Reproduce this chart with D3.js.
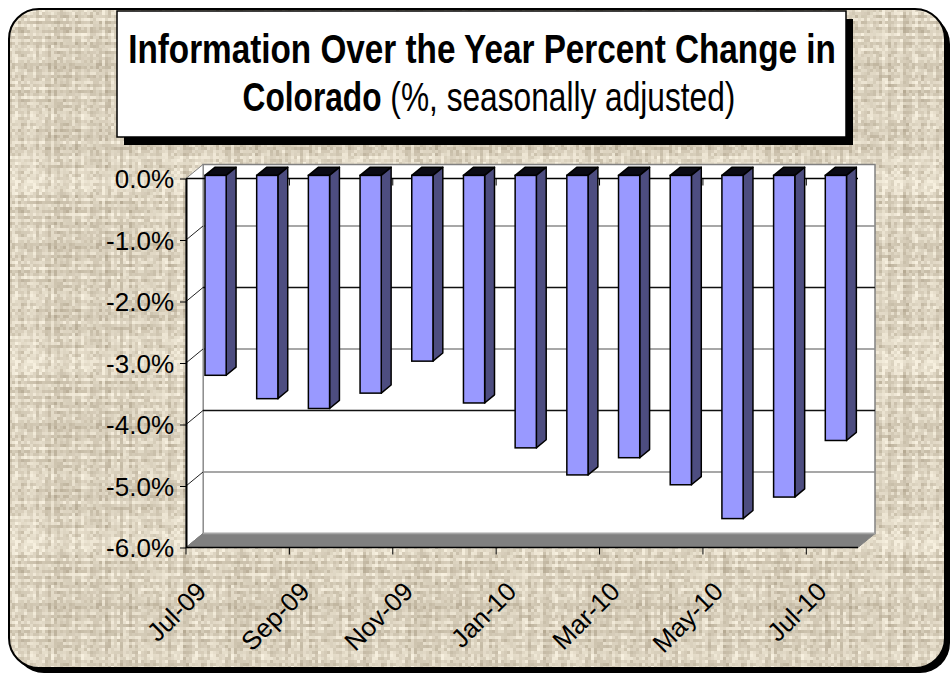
<!DOCTYPE html>
<html>
<head>
<meta charset="utf-8">
<script src="https://cdn.jsdelivr.net/npm/d3@7"></script>
<style>
  body { margin: 0; background: #fff; }
  text { font-family: 'Liberation Sans', Arial, sans-serif; }
</style>
</head>
<body>
<svg id="chart" width="952" height="675"></svg>
<script>
// data
const months = ['Jul-09','Aug-09','Sep-09','Oct-09','Nov-09','Dec-09','Jan-10','Feb-10','Mar-10','Apr-10','May-10','Jun-10','Jul-10'];
const values = [-3.25, -3.63, -3.79, -3.54, -3.02, -3.70, -4.43, -4.87, -4.59, -5.03, -5.58, -5.23, -4.31];
const yTicks = [0, -1, -2, -3, -4, -5, -6];
const titleLine1 = 'Information Over the Year Percent Change in';
const titleBold2 = 'Colorado';
const titleRest2 = ' (%, seasonally adjusted)';

// plot front plane + 3d depth offset
const pLeft = 186, pRight = 858, pTop = 178.5, pBottom = 547.5;
const DX = 17, DY = -14;

const svg = d3.select('#chart');

// hash for the linen texture (decoration only)
function hash(n) {
  const s = Math.sin(n * 127.1 + 311.7) * 43758.5453;
  return s - Math.floor(s);
}

// background linen pattern
const defs = svg.append('defs');
const tile = 3, nCells = 60;
const pat = defs.append('pattern')
  .attr('id', 'linen')
  .attr('patternUnits', 'userSpaceOnUse')
  .attr('width', tile * nCells).attr('height', tile * nCells);
const shade = d3.interpolateRgb('#a4977f', '#f7f0df');
const cells = [];
for (let r = 0; r < nCells; r++) {
  for (let c = 0; c < nCells; c++) {
    const rv = hash(r + 7) - 0.5, cv = hash(c + 1003) - 0.5, nv = hash(r * 61 + c * 13 + 5) - 0.5;
    let t = 0.66 + 0.32 * (rv + cv) + 0.4 * nv;
    t = Math.max(0, Math.min(1, t));
    cells.push({ r, c, t });
  }
}
pat.selectAll('rect').data(cells).enter().append('rect')
  .attr('x', d => d.c * tile).attr('y', d => d.r * tile)
  .attr('width', tile).attr('height', tile)
  .attr('fill', d => shade(d.t));

// outer frame with shadow
svg.append('rect')
  .attr('x', 14).attr('y', 14).attr('width', 936).attr('height', 659)
  .attr('rx', 30).attr('fill', '#000');
svg.append('rect')
  .attr('x', 9).attr('y', 9).attr('width', 936).attr('height', 659)
  .attr('rx', 30).attr('fill', 'url(#linen)')
  .attr('stroke', '#000').attr('stroke-width', 2);

// title box
svg.append('rect')
  .attr('x', 124).attr('y', 19).attr('width', 729).attr('height', 126)
  .attr('fill', '#000');
svg.append('rect')
  .attr('x', 117).attr('y', 11).attr('width', 729).attr('height', 126)
  .attr('fill', '#fff').attr('stroke', '#000').attr('stroke-width', 1.5);

const titleFont = "'Liberation Sans Narrow', 'Arial Narrow', 'Liberation Sans', sans-serif";
const t1 = svg.append('text')
  .attr('x', 482).attr('y', 63)
  .attr('text-anchor', 'middle')
  .style('font-family', titleFont)
  .style('font-size', '41px').style('font-weight', 'bold')
  .text(titleLine1);
const t2 = svg.append('text')
  .attr('x', 489).attr('y', 111)
  .attr('text-anchor', 'middle')
  .style('font-family', titleFont)
  .style('font-size', '41px');
t2.append('tspan').style('font-weight', 'bold').text(titleBold2);
t2.append('tspan').text(titleRest2);

// squeeze if narrow face is missing
[[t1, 708, 482], [t2, 493, 489]].forEach(([t, target, cx]) => {
  const w = t.node().getComputedTextLength();
  if (w > target * 1.03) {
    const k = target / w;
    t.attr('transform', `translate(${cx},0) scale(${k},1) translate(${-cx},0)`);
  }
});

// scales
const x = d3.scaleBand().domain(months).range([pLeft, pRight]).padding(0);
const y = d3.scaleLinear().domain([-6, 0]).range([pBottom, pTop]);

const g = svg.append('g');

// back wall
g.append('rect')
  .attr('x', pLeft + DX).attr('y', pTop + DY)
  .attr('width', pRight - pLeft).attr('height', pBottom - pTop)
  .attr('fill', '#fff').attr('stroke', '#808080').attr('stroke-width', 1.5);

// side wall
g.append('path')
  .attr('d', `M${pLeft},${pTop}L${pLeft + DX},${pTop + DY}L${pLeft + DX},${pBottom + DY}L${pLeft},${pBottom}Z`)
  .attr('fill', '#fff').attr('stroke', '#808080').attr('stroke-width', 1);

// gridlines on back wall + side wall
const innerTicks = yTicks.filter(v => v > -6 && v < 0);
g.selectAll('.grid').data(innerTicks).enter().append('line')
  .attr('x1', pLeft + DX).attr('x2', pRight + DX)
  .attr('y1', d => y(d) + DY).attr('y2', d => y(d) + DY)
  .attr('stroke', d => (d % 2 === 0 ? '#111' : '#8a8a8a')).attr('stroke-width', 1.3);
g.selectAll('.sgrid').data(innerTicks).enter().append('line')
  .attr('x1', pLeft).attr('x2', pLeft + DX)
  .attr('y1', d => y(d)).attr('y2', d => y(d) + DY)
  .attr('stroke', '#222').attr('stroke-width', 1);

// floor
g.append('path')
  .attr('d', `M${pLeft},${pBottom}L${pRight},${pBottom}L${pRight + DX},${pBottom + DY}L${pLeft + DX},${pBottom + DY}Z`)
  .attr('fill', '#808080').attr('stroke', '#808080');
g.append('line')
  .attr('x1', pLeft + DX).attr('x2', pRight + DX)
  .attr('y1', pBottom + DY).attr('y2', pBottom + DY)
  .attr('stroke', '#a6a6a6').attr('stroke-width', 1.5);

// zero axis line + its ticks
g.append('line')
  .attr('x1', pLeft).attr('x2', pRight)
  .attr('y1', y(0)).attr('y2', y(0))
  .attr('stroke', '#000').attr('stroke-width', 1.5);

const tickIdx = months.map((m, i) => i).filter(i => i % 2 === 0);
g.selectAll('.ztick').data(tickIdx.filter(i => i > 0)).enter().append('line')
  .attr('x1', i => x(months[i])).attr('x2', i => x(months[i]))
  .attr('y1', y(0)).attr('y2', y(0) + 7)
  .attr('stroke', '#000');

// bars
const bw = x.bandwidth() * 0.41;
const f0 = 0.22, f1 = 0.8;
const bars = g.selectAll('.bar').data(months.map((m, i) => ({ m, v: values[i] }))).enter()
  .append('g').attr('class', 'bar');

function barGeom(d) {
  const cx = x(d.m) + x.bandwidth() / 2;
  const xl = cx - bw / 2 + f0 * DX, xr = xl + bw;
  const yt = y(0) + f0 * DY, yb = y(d.v) + f0 * DY;
  const ddx = (f1 - f0) * DX, ddy = (f1 - f0) * DY;
  return { xl, xr, yt, yb, ddx, ddy };
}

bars.append('path') // top
  .attr('d', d => {
    const b = barGeom(d);
    return `M${b.xl},${b.yt}L${b.xr},${b.yt}L${b.xr + b.ddx},${b.yt + b.ddy}L${b.xl + b.ddx},${b.yt + b.ddy}Z`;
  })
  .attr('fill', '#0a0a14').attr('stroke', '#000').attr('stroke-width', 1.5).attr('stroke-linejoin', 'round');
bars.append('path') // side
  .attr('d', d => {
    const b = barGeom(d);
    return `M${b.xr},${b.yt}L${b.xr + b.ddx},${b.yt + b.ddy}L${b.xr + b.ddx},${b.yb + b.ddy}L${b.xr},${b.yb}Z`;
  })
  .attr('fill', '#4d4d80').attr('stroke', '#000').attr('stroke-width', 1.5).attr('stroke-linejoin', 'round');
bars.append('rect') // front
  .attr('x', d => barGeom(d).xl).attr('y', d => barGeom(d).yt)
  .attr('width', bw).attr('height', d => barGeom(d).yb - barGeom(d).yt)
  .attr('fill', '#9999ff').attr('stroke', '#000').attr('stroke-width', 1.5);

// y axis
const yAxis = d3.axisLeft(y)
  .tickValues(yTicks)
  .tickFormat(d => d.toFixed(1) + '%')
  .tickSizeInner(6).tickSizeOuter(0).tickPadding(6);
const ya = svg.append('g').attr('transform', `translate(${pLeft},0)`).call(yAxis);
ya.select('.domain').attr('stroke', '#000').attr('stroke-width', 2);
ya.selectAll('.tick line').attr('stroke', '#000');
ya.selectAll('.tick text')
  .attr('dy', null).attr('y', 9)
  .style('font-size', '26px').style('font-family', "'Liberation Sans', Arial, sans-serif")
  .attr('fill', '#000');

// x axis: front floor edge, ticks every two months
svg.append('line')
  .attr('x1', pLeft).attr('x2', pRight)
  .attr('y1', pBottom).attr('y2', pBottom)
  .attr('stroke', '#000').attr('stroke-width', 1.5);
svg.selectAll('.xtick').data(tickIdx).enter().append('line')
  .attr('x1', i => x(months[i])).attr('x2', i => x(months[i]))
  .attr('y1', pBottom).attr('y2', pBottom + 7)
  .attr('stroke', '#000');
svg.selectAll('.xlab').data(tickIdx).enter().append('text')
  .attr('transform', i => `translate(${x(months[i]) + x.bandwidth() / 2 - 4},593) rotate(-45)`)
  .attr('text-anchor', 'end')
  .style('font-size', '26px')
  .text(i => months[i]);
</script>
</body>
</html>
